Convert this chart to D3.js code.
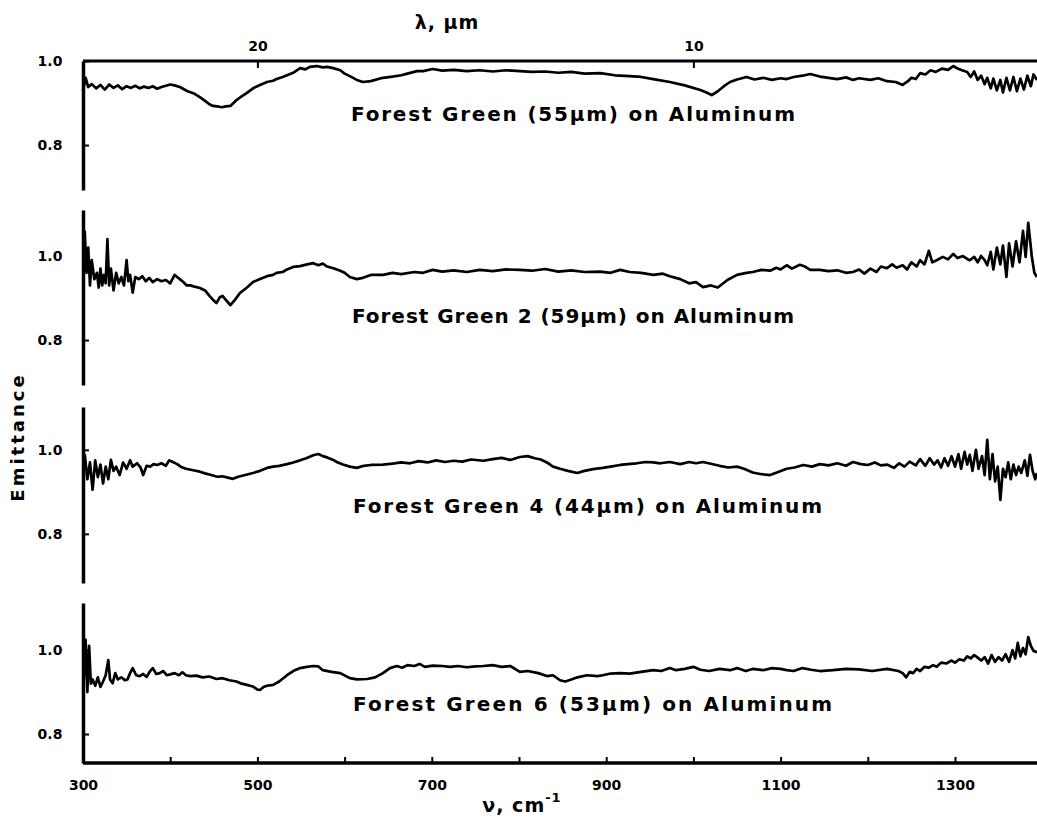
<!DOCTYPE html>
<html>
<head>
<meta charset="utf-8">
<script src="https://cdn.jsdelivr.net/npm/d3@7"></script>
<style>
  html, body { margin: 0; padding: 0; background: #fff; }
  svg { display: block; }
  .ax path, .ax line { stroke: #000; }
  .ax text { font-family: "DejaVu Sans", sans-serif; font-weight: bold; fill: #000; }
</style>
</head>
<body>
<svg id="chart" width="1037" height="822"></svg>
<script>
// ---------------- DATA ----------------
const seriesLabels = [
  "Forest Green (55\u00b5m) on Aluminum",
  "Forest Green 2 (59\u00b5m) on Aluminum",
  "Forest Green 4 (44\u00b5m) on Aluminum",
  "Forest Green 6 (53\u00b5m) on Aluminum"
];
const wavenumberTicks = [300, 400, 500, 600, 700, 800, 900, 1000, 1100, 1200, 1300];
const wavenumberLabels = [300, 500, 700, 900, 1100, 1300];
const wavelengthTicks = [20, 10];
const emittanceTicks = [0.8, 1.0];

// [wavenumber cm^-1, emittance]
const forestGreen = [[300,0.93],[303,0.96],[306,0.938],[310,0.945],[315,0.935],[320,0.943],[325,0.932],[330,0.944],[335,0.936],[340,0.942],[345,0.933],[350,0.940],[355,0.936],[360,0.941],[365,0.935],[370,0.939],[375,0.936],[380,0.940],[385,0.934],[390,0.938],[395,0.941],[400,0.944],[405,0.942],[411,0.938],[420,0.928],[428,0.922],[434,0.914],[440,0.905],[445,0.897],[449,0.893],[454,0.892],[459,0.890],[464,0.892],[469,0.893],[475,0.905],[482,0.916],[488,0.924],[495,0.935],[503,0.943],[511,0.950],[518,0.953],[522,0.957],[529,0.962],[534,0.966],[541,0.972],[549,0.983],[555,0.980],[560,0.986],[568,0.988],[575,0.985],[580,0.986],[587,0.983],[595,0.978],[600,0.970],[606,0.964],[614,0.955],[621,0.950],[630,0.952],[644,0.960],[655,0.963],[665,0.966],[672,0.970],[683,0.976],[690,0.976],[701,0.981],[712,0.977],[725,0.979],[740,0.976],[755,0.978],[770,0.975],[785,0.978],[801,0.976],[815,0.974],[830,0.975],[845,0.972],[860,0.974],[875,0.970],[893,0.971],[910,0.966],[927,0.964],[940,0.962],[954,0.957],[973,0.950],[990,0.942],[1008,0.931],[1015,0.925],[1021,0.919],[1028,0.928],[1035,0.940],[1042,0.950],[1050,0.956],[1061,0.962],[1070,0.956],[1080,0.960],[1090,0.955],[1100,0.959],[1107,0.957],[1115,0.962],[1125,0.965],[1134,0.969],[1145,0.963],[1155,0.960],[1165,0.957],[1175,0.961],[1183,0.955],[1190,0.959],[1203,0.955],[1212,0.959],[1222,0.952],[1232,0.950],[1240,0.943],[1246,0.952],[1250,0.960],[1255,0.957],[1260,0.971],[1266,0.968],[1272,0.978],[1278,0.974],[1285,0.982],[1292,0.979],[1298,0.988],[1303,0.982],[1308,0.978],[1314,0.974],[1318,0.962],[1322,0.975],[1326,0.955],[1330,0.965],[1334,0.945],[1337,0.960],[1341,0.935],[1344,0.958],[1348,0.930],[1352,0.955],[1355,0.925],[1359,0.960],[1363,0.930],[1367,0.962],[1371,0.928],[1375,0.958],[1379,0.932],[1383,0.965],[1387,0.940],[1390,0.968],[1394,0.955]];

const forestGreen2 = [[302,1.06],[304,0.96],[306,1.02],[308,0.93],[310,0.99],[313,0.945],[316,0.96],[318,0.925],[320,0.97],[322,0.93],[324,0.955],[326,0.935],[328,1.04],[330,0.93],[332,0.97],[335,0.918],[338,0.96],[341,0.935],[344,0.95],[347,0.93],[350,0.99],[352,0.94],[354,0.955],[357,0.913],[360,0.95],[364,0.945],[368,0.952],[372,0.940],[376,0.948],[380,0.938],[385,0.945],[390,0.940],[395,0.943],[400,0.935],[405,0.955],[408,0.950],[411,0.945],[415,0.938],[419,0.930],[423,0.930],[428,0.927],[434,0.924],[440,0.918],[445,0.905],[449,0.896],[453,0.888],[457,0.902],[460,0.905],[464,0.895],[469,0.883],[474,0.895],[480,0.912],[488,0.925],[495,0.938],[503,0.945],[511,0.952],[518,0.955],[522,0.960],[529,0.962],[534,0.968],[541,0.974],[549,0.976],[557,0.980],[564,0.983],[570,0.978],[575,0.982],[580,0.975],[587,0.971],[595,0.965],[600,0.960],[606,0.950],[614,0.945],[621,0.948],[630,0.955],[644,0.955],[655,0.960],[665,0.957],[680,0.962],[690,0.960],[701,0.967],[712,0.963],[725,0.966],[740,0.962],[755,0.967],[770,0.964],[785,0.968],[801,0.967],[815,0.965],[830,0.969],[845,0.963],[860,0.966],[875,0.962],[893,0.963],[905,0.960],[916,0.967],[927,0.962],[940,0.960],[954,0.955],[965,0.958],[973,0.952],[985,0.945],[995,0.935],[1003,0.938],[1011,0.926],[1020,0.930],[1028,0.925],[1039,0.943],[1050,0.955],[1061,0.960],[1068,0.962],[1078,0.967],[1088,0.965],[1095,0.972],[1100,0.968],[1107,0.978],[1113,0.970],[1122,0.979],[1128,0.975],[1134,0.967],[1145,0.967],[1155,0.964],[1165,0.966],[1175,0.960],[1183,0.962],[1190,0.968],[1196,0.958],[1203,0.970],[1210,0.962],[1215,0.975],[1222,0.971],[1228,0.980],[1233,0.972],[1240,0.978],[1245,0.968],[1250,0.985],[1256,0.975],[1260,0.990],[1265,0.980],[1270,1.012],[1274,0.985],[1279,0.990],[1286,0.998],[1292,0.992],[1298,1.005],[1303,0.995],[1309,1.000],[1314,0.993],[1317,0.990],[1322,0.998],[1326,0.985],[1330,1.000],[1334,0.990],[1337,0.978],[1341,1.010],[1344,0.968],[1348,1.020],[1352,0.980],[1355,1.025],[1359,0.950],[1362,1.030],[1366,0.975],[1370,1.035],[1374,0.985],[1378,1.060],[1381,0.998],[1384,1.079],[1388,1.000],[1391,0.960],[1394,0.950]];

const forestGreen4 = [[302,0.99],[305,0.93],[308,0.97],[311,0.905],[314,0.975],[317,0.935],[320,0.965],[323,0.92],[326,0.96],[329,0.93],[332,0.976],[335,0.95],[338,0.96],[342,0.94],[346,0.97],[350,0.955],[354,0.975],[357,0.96],[362,0.968],[366,0.958],[369,0.940],[373,0.962],[377,0.960],[381,0.966],[385,0.964],[390,0.968],[395,0.962],[399,0.975],[403,0.971],[408,0.966],[412,0.960],[418,0.955],[425,0.952],[434,0.948],[440,0.944],[447,0.940],[454,0.936],[460,0.937],[466,0.934],[472,0.931],[478,0.936],[486,0.940],[495,0.945],[503,0.950],[511,0.957],[518,0.960],[525,0.962],[534,0.966],[541,0.970],[549,0.975],[556,0.980],[564,0.987],[570,0.990],[575,0.985],[580,0.982],[587,0.976],[591,0.971],[598,0.965],[606,0.960],[614,0.957],[622,0.962],[630,0.964],[644,0.965],[655,0.967],[665,0.970],[675,0.968],[685,0.973],[695,0.970],[705,0.975],[715,0.971],[725,0.974],[735,0.972],[745,0.977],[759,0.974],[770,0.978],[780,0.981],[790,0.976],[801,0.983],[810,0.985],[818,0.980],[825,0.977],[832,0.970],[839,0.960],[847,0.955],[856,0.950],[867,0.945],[875,0.950],[885,0.954],[896,0.957],[905,0.960],[916,0.964],[925,0.966],[935,0.968],[945,0.971],[954,0.970],[962,0.968],[973,0.971],[985,0.966],[995,0.971],[1003,0.968],[1011,0.971],[1020,0.967],[1030,0.962],[1040,0.958],[1050,0.960],[1058,0.955],[1068,0.946],[1078,0.942],[1088,0.940],[1098,0.948],[1107,0.955],[1116,0.958],[1126,0.964],[1136,0.960],[1145,0.966],[1155,0.963],[1165,0.968],[1175,0.962],[1183,0.971],[1192,0.966],[1200,0.964],[1208,0.970],[1215,0.963],[1222,0.965],[1230,0.957],[1236,0.968],[1242,0.960],[1248,0.972],[1255,0.963],[1260,0.978],[1266,0.962],[1271,0.980],[1276,0.965],[1280,0.975],[1284,0.958],[1288,0.980],[1292,0.962],[1296,0.985],[1300,0.960],[1304,0.990],[1307,0.955],[1311,0.995],[1314,0.965],[1317,0.988],[1320,0.950],[1324,1.000],[1327,0.955],[1331,0.985],[1334,0.940],[1337,1.024],[1340,0.930],[1343,0.990],[1346,0.925],[1349,0.960],[1352,0.881],[1355,0.955],[1358,0.935],[1361,0.970],[1364,0.930],[1367,0.965],[1370,0.940],[1373,0.960],[1376,0.945],[1380,0.975],[1383,0.938],[1386,0.988],[1389,0.950],[1392,0.930],[1394,0.945]];

const forestGreen6 = [[301,0.93],[303,1.024],[305,0.90],[307,1.01],[309,0.92],[311,0.93],[314,0.915],[317,0.935],[320,0.912],[323,0.925],[326,0.94],[329,0.976],[331,0.93],[334,0.921],[337,0.945],[340,0.930],[344,0.935],[348,0.928],[351,0.930],[354,0.945],[357,0.957],[361,0.940],[365,0.938],[369,0.943],[373,0.936],[377,0.950],[380,0.957],[384,0.943],[388,0.945],[392,0.950],[396,0.940],[400,0.942],[405,0.945],[410,0.940],[414,0.947],[418,0.940],[423,0.938],[430,0.939],[437,0.935],[445,0.937],[453,0.931],[460,0.933],[468,0.928],[476,0.925],[482,0.920],[488,0.917],[495,0.913],[500,0.906],[503,0.905],[507,0.912],[511,0.915],[518,0.917],[525,0.925],[534,0.940],[541,0.950],[549,0.957],[557,0.960],[564,0.962],[570,0.961],[575,0.952],[585,0.948],[595,0.945],[606,0.933],[614,0.930],[626,0.931],[635,0.935],[644,0.945],[652,0.957],[660,0.962],[666,0.958],[672,0.964],[680,0.962],[686,0.967],[692,0.960],[701,0.963],[712,0.962],[721,0.960],[730,0.962],[740,0.959],[750,0.961],[759,0.962],[770,0.964],[780,0.960],[790,0.962],[801,0.948],[810,0.950],[822,0.945],[832,0.938],[839,0.940],[847,0.928],[853,0.925],[860,0.930],[867,0.935],[878,0.940],[890,0.938],[896,0.940],[905,0.944],[916,0.945],[927,0.944],[940,0.948],[954,0.952],[963,0.950],[973,0.957],[980,0.952],[990,0.955],[1000,0.960],[1008,0.953],[1018,0.950],[1030,0.955],[1042,0.952],[1050,0.957],[1060,0.950],[1068,0.955],[1080,0.952],[1090,0.957],[1100,0.955],[1107,0.952],[1115,0.950],[1125,0.957],[1135,0.953],[1145,0.950],[1160,0.952],[1175,0.955],[1190,0.954],[1205,0.950],[1222,0.955],[1235,0.950],[1240,0.945],[1244,0.935],[1248,0.948],[1252,0.945],[1256,0.955],[1260,0.950],[1265,0.960],[1270,0.958],[1275,0.964],[1279,0.960],[1284,0.970],[1290,0.968],[1296,0.975],[1300,0.970],[1305,0.978],[1310,0.975],[1314,0.985],[1318,0.980],[1322,0.988],[1326,0.982],[1330,0.975],[1334,0.983],[1338,0.968],[1342,0.988],[1346,0.972],[1350,0.983],[1354,0.975],[1358,0.990],[1362,0.972],[1366,1.000],[1369,0.980],[1372,1.017],[1375,0.985],[1378,1.005],[1381,0.990],[1384,1.031],[1387,1.010],[1390,0.998],[1394,0.995]];

const allSeries = [forestGreen, forestGreen2, forestGreen4, forestGreen6];

// ---------------- LAYOUT ----------------
const axisX = 83, rightX = 1037;
const panels = [
  { top: 61,  bottom: 190, vTop: 1.0,   vBottom: 0.693, labelX: 351, labelY: 115, labelW: 444 },
  { top: 210, bottom: 385, vTop: 1.1095,vBottom: 0.693, labelX: 352, labelY: 317, labelW: 442 },
  { top: 407, bottom: 583, vTop: 1.102, vBottom: 0.683, labelX: 353, labelY: 507, labelW: 469 },
  { top: 603, bottom: 763, vTop: 1.112, vBottom: 0.731, labelX: 353, labelY: 705, labelW: 479 }
];
const FONT = '"DejaVu Sans", sans-serif';

const svg = d3.select("#chart");
const x = d3.scaleLinear().domain([300, 1400]).range([axisX, axisX + 1100 * 0.872]);

const line = d3.line().curve(d3.curveLinear);

panels.forEach((p, i) => {
  const y = d3.scaleLinear().domain([p.vBottom, p.vTop]).range([p.bottom, p.top]);
  const g = svg.append("g");

  // y axis
  const yAx = g.append("g").attr("class", "ax")
    .attr("transform", `translate(${axisX},0)`)
    .call(d3.axisLeft(y).tickValues(emittanceTicks).tickFormat(d3.format(".1f"))
      .tickSize(-6).tickSizeOuter(0).tickPadding(33));
  yAx.select(".domain").attr("stroke-width", 3.5);
  yAx.selectAll(".tick line").attr("stroke-width", 2);
  yAx.selectAll(".tick text").attr("font-size", 14).attr("text-anchor", "middle");

  // curve
  g.append("path")
    .datum(allSeries[i])
    .attr("fill", "none")
    .attr("stroke", "#000")
    .attr("stroke-width", 2.7)
    .attr("stroke-linejoin", "round")
    .attr("d", line.x(d => x(d[0])).y(d => y(d[1])));

  // label
  g.append("text")
    .attr("x", p.labelX).attr("y", p.labelY)
    .attr("dominant-baseline", "middle")
    .attr("font-family", FONT).attr("font-weight", "bold").attr("font-size", 20)
    .attr("textLength", p.labelW).attr("lengthAdjust", "spacing")
    .text(seriesLabels[i]);

  if (i === 0) {
    // top wavelength axis
    const topAx = g.append("g").attr("class", "ax")
      .attr("transform", `translate(0,${p.top})`)
      .call(d3.axisTop(x).tickValues(wavelengthTicks.map(l => 1e4 / l))
        .tickFormat(v => String(Math.round(1e4 / v)))
        .tickSize(-7).tickSizeOuter(0).tickPadding(10));
    topAx.select(".domain").attr("d", `M${axisX},0H${rightX}`).attr("stroke-width", 3);
    topAx.selectAll(".tick line").attr("stroke-width", 2);
    topAx.selectAll(".tick text").attr("font-size", 14);
    svg.append("text")
      .attr("x", 447).attr("y", 23)
      .attr("text-anchor", "middle").attr("dominant-baseline", "middle")
      .attr("font-family", FONT).attr("font-weight", "bold").attr("font-size", 19)
      .attr("letter-spacing", 1)
      .text("\u03bb, \u00b5m");
  }
  if (i === panels.length - 1) {
    const botAx = g.append("g").attr("class", "ax")
      .attr("transform", `translate(0,${p.bottom})`)
      .call(d3.axisBottom(x).tickValues(wavenumberTicks)
        .tickFormat(v => wavenumberLabels.includes(v) ? String(v) : "")
        .tickSize(-6).tickSizeOuter(0).tickPadding(17));
    botAx.select(".domain").attr("d", `M${axisX},0H${rightX}`).attr("stroke-width", 3.5);
    botAx.selectAll(".tick line").attr("stroke-width", 2);
    botAx.selectAll(".tick text").attr("font-size", 14);
  }
});

// axis titles
svg.append("text")
  .attr("x", 522).attr("y", 806)
  .attr("text-anchor", "middle").attr("dominant-baseline", "middle")
  .attr("font-family", FONT).attr("font-weight", "bold").attr("font-size", 19)
  .attr("letter-spacing", 1)
  .html('\u03bd, cm<tspan dy="-8" font-size="13">-1</tspan>');

svg.append("text")
  .attr("transform", "translate(19,437) rotate(-90)")
  .attr("text-anchor", "middle").attr("dominant-baseline", "middle")
  .attr("font-family", FONT).attr("font-weight", "bold").attr("font-size", 18)
  .attr("letter-spacing", 3)
  .text("Emittance");
</script>
</body>
</html>
